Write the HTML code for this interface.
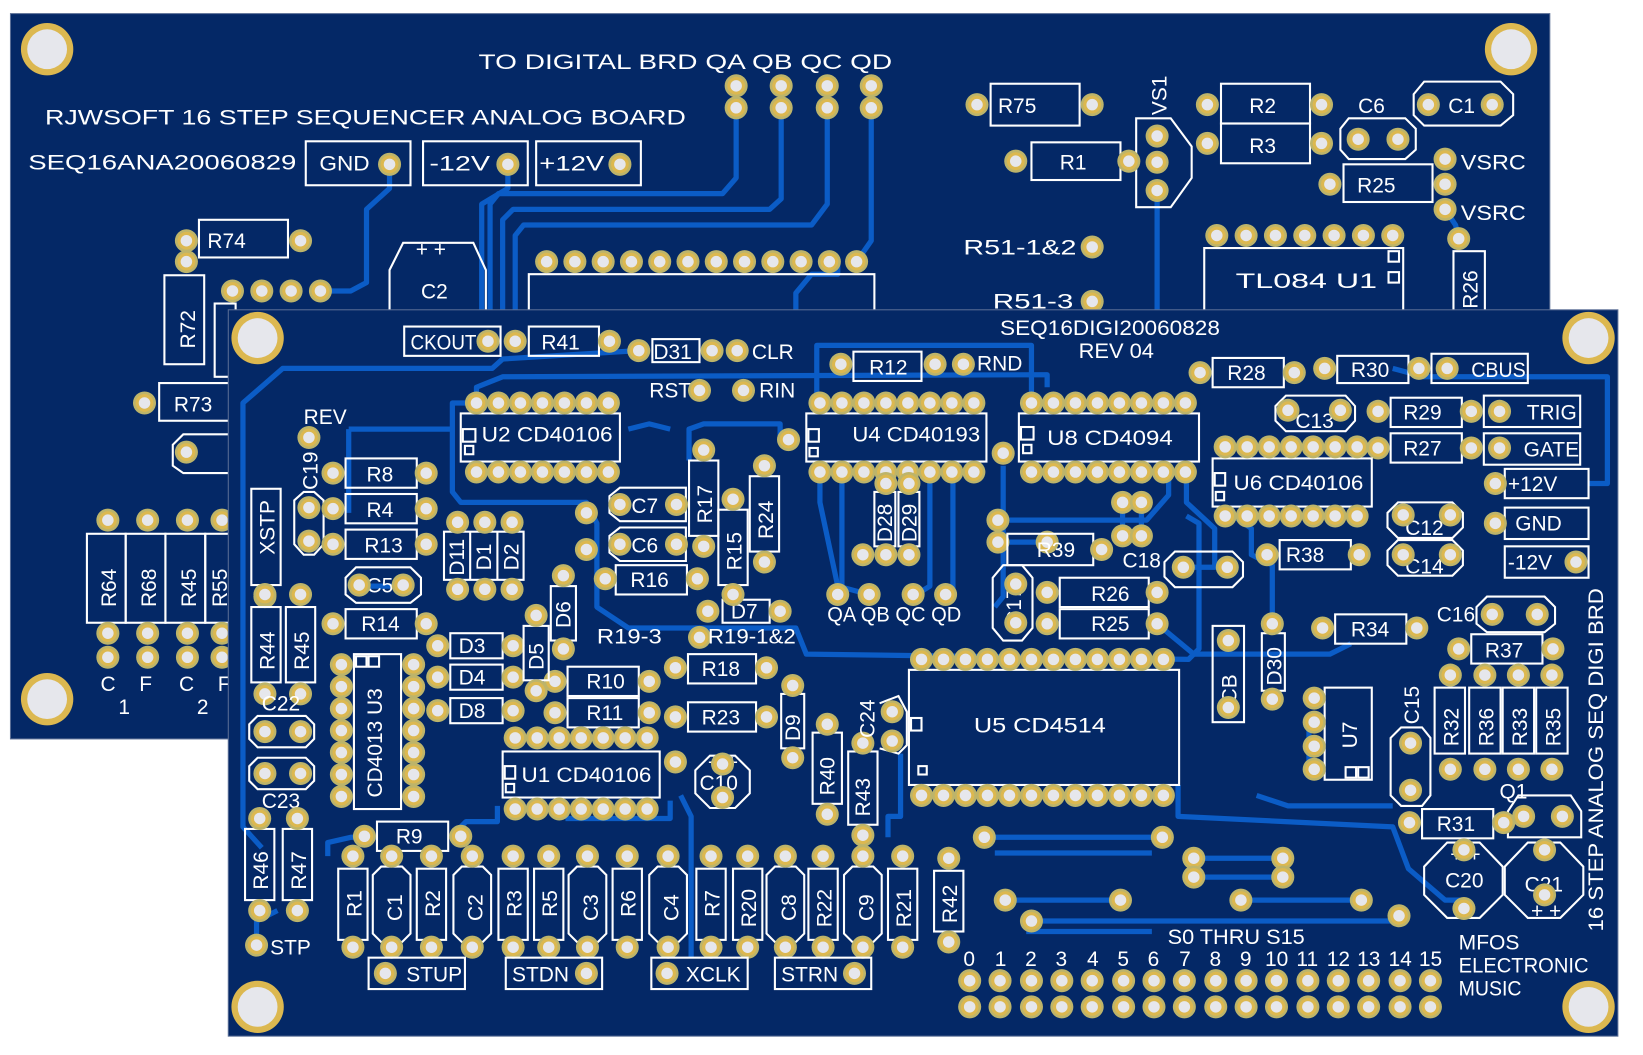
<!DOCTYPE html>
<html><head><meta charset="utf-8"><style>
html,body{margin:0;padding:0;background:#fff}
svg{display:block}
text{font-family:"Liberation Sans","DejaVu Sans",sans-serif;fill:#fff;font-size:20px}
.b{fill:none;stroke:#fff;stroke-width:2}
.tr{fill:none;stroke:#0b5cc6;stroke-width:5;stroke-linejoin:round}
</style></head><body>
<svg width="1643" height="1055" viewBox="0 0 1569 1008" preserveAspectRatio="none" xmlns="http://www.w3.org/2000/svg">
<defs>
<g id="p"><circle r="11" fill="#bdb46a"/><circle r="8.5" fill="#dcb850"/><circle r="5.5" fill="#e6e7ec"/></g>
<g id="h"><circle r="25" fill="#dcb850"/><circle r="19" fill="#e6e7ec"/></g>
</defs>
<!-- BACK BOARD -->
<rect x="10" y="13" width="1470" height="693" fill="#042866" stroke="#5a6e96" stroke-width="1"/>
<g class="tr">
<polyline points="372,157 372,180 350,200 350,270 335,278 306,278"/>
<polyline points="485,157 485,180 460,195 460,296"/>
<polyline points="703,103 703,170 690,185 476,185 468,195 468,296"/>
<polyline points="746,103 746,190 735,200 490,200 480,210 480,296"/>
<polyline points="790,103 790,195 775,215 500,215 492,225 492,296"/>
<polyline points="832,103 832,230 818,250"/>
<polyline points="1105,182 1105,296"/>
<polyline points="1380,200 1390,215 1393,228"/>
<polyline points="760,296 760,280 775,262 800,262 800,250"/>
</g>
<use href="#h" x="45" y="47"/><use href="#h" x="1443" y="47"/><use href="#h" x="45" y="668"/>
<text x="457" y="66" font-size="23" textLength="395" lengthAdjust="spacingAndGlyphs">TO DIGITAL BRD  QA  QB  QC  QD</text>
<text x="43" y="119" font-size="23" textLength="612" lengthAdjust="spacingAndGlyphs">RJWSOFT  16 STEP  SEQUENCER  ANALOG BOARD</text>
<text x="27" y="162" font-size="23" textLength="256" lengthAdjust="spacingAndGlyphs">SEQ16ANA20060829</text>
<rect class="b" x="292" y="135" width="100" height="42"/><text x="305" y="163" font-size="23" textLength="48" lengthAdjust="spacingAndGlyphs">GND</text>
<rect class="b" x="404" y="135" width="100" height="42"/><text x="410" y="163" font-size="23" textLength="58" lengthAdjust="spacingAndGlyphs">-12V</text>
<rect class="b" x="512" y="135" width="100" height="42"/><text x="515" y="163" font-size="23" textLength="62" lengthAdjust="spacingAndGlyphs">+12V</text>
<use href="#p" x="372" y="157"/><use href="#p" x="485" y="157"/><use href="#p" x="592" y="157"/>
<use href="#p" x="703" y="82"/><use href="#p" x="703" y="103"/><use href="#p" x="746" y="82"/><use href="#p" x="746" y="103"/>
<use href="#p" x="790" y="82"/><use href="#p" x="790" y="103"/><use href="#p" x="832" y="82"/><use href="#p" x="832" y="103"/>
<rect class="b" x="946" y="80" width="85" height="40"/><text x="953" y="108" font-size="23">R75</text>
<use href="#p" x="933" y="100"/><use href="#p" x="1043" y="100"/>
<polygon class="b" points="1085,113 1118,113 1138,140 1138,170 1118,198 1085,198"/>
<use href="#p" x="1105" y="130"/><use href="#p" x="1105" y="155"/><use href="#p" x="1105" y="182"/>
<text transform="translate(1114,110) rotate(-90)" font-size="23">VS1</text>
<rect class="b" x="1166" y="80" width="85" height="38"/><text x="1193" y="108" font-size="23">R2</text>
<rect class="b" x="1166" y="118" width="85" height="38"/><text x="1193" y="146" font-size="23">R3</text>
<use href="#p" x="1153" y="100"/><use href="#p" x="1262" y="100"/><use href="#p" x="1153" y="137"/><use href="#p" x="1262" y="137"/>
<text x="1297" y="108" font-size="23">C6</text>
<polygon class="b" points="1288,113 1342,113 1352,123 1352,143 1342,152 1288,152 1280,143 1280,123"/>
<use href="#p" x="1297" y="133"/><use href="#p" x="1335" y="133"/>
<polygon class="b" points="1360,78 1433,78 1445,90 1445,110 1433,120 1360,120 1350,110 1350,90"/>
<use href="#p" x="1364" y="100"/><text x="1383" y="108" font-size="23">C1</text><use href="#p" x="1425" y="100"/>
<rect class="b" x="985" y="136" width="85" height="36"/><text x="1012" y="162" font-size="23">R1</text>
<use href="#p" x="970" y="154"/><use href="#p" x="1078" y="154"/>
<rect class="b" x="1283" y="157" width="85" height="36"/><text x="1296" y="184" font-size="23">R25</text>
<use href="#p" x="1270" y="176"/><use href="#p" x="1380" y="176"/><use href="#p" x="1380" y="152"/><use href="#p" x="1380" y="200"/>
<text x="1395" y="162" font-size="23" textLength="62" lengthAdjust="spacingAndGlyphs">VSRC</text><text x="1395" y="210" font-size="23" textLength="62" lengthAdjust="spacingAndGlyphs">VSRC</text>
<text x="920" y="243" font-size="23" textLength="108" lengthAdjust="spacingAndGlyphs">R51-1&amp;2</text><use href="#p" x="1043" y="236"/>
<text x="948" y="295" font-size="23" textLength="77" lengthAdjust="spacingAndGlyphs">R51-3</text><use href="#p" x="1043" y="288"/>
<rect class="b" x="1150" y="237" width="190" height="62"/><text x="1180" y="275" font-size="23" textLength="135" lengthAdjust="spacingAndGlyphs">TL084   U1</text>
<rect class="b" x="1326" y="240" width="10" height="10"/><rect class="b" x="1326" y="260" width="10" height="10"/>
<g><use href="#p" x="1162" y="225"/><use href="#p" x="1190" y="225"/><use href="#p" x="1218" y="225"/><use href="#p" x="1246" y="225"/><use href="#p" x="1274" y="225"/><use href="#p" x="1302" y="225"/><use href="#p" x="1330" y="225"/></g>
<rect class="b" x="1388" y="240" width="30" height="58"/><text transform="translate(1411,295) rotate(-90)" font-size="23">R26</text>
<use href="#p" x="1393" y="228"/>
<rect class="b" x="190" y="210" width="85" height="36"/><text x="198" y="237" font-size="23">R74</text>
<use href="#p" x="178" y="230"/><use href="#p" x="287" y="230"/><use href="#p" x="178" y="250"/>
<rect class="b" x="157" y="263" width="38" height="85"/><text transform="translate(186,333) rotate(-90)" font-size="23">R72</text>
<rect class="b" x="205" y="290" width="20" height="70"/>
<use href="#p" x="222" y="278"/><use href="#p" x="250" y="278"/><use href="#p" x="278" y="278"/><use href="#p" x="306" y="278"/>
<polyline class="b" points="372,296 372,258 385,232 452,232 464,258 464,296"/>
<text x="397" y="245" font-size="18">+ +</text><text x="402" y="285" font-size="23">C2</text>
<polyline class="b" points="505,296 505,262 835,262 835,296"/>
<g><use href="#p" x="522" y="250"/><use href="#p" x="549" y="250"/><use href="#p" x="576" y="250"/><use href="#p" x="603" y="250"/><use href="#p" x="630" y="250"/><use href="#p" x="657" y="250"/><use href="#p" x="684" y="250"/><use href="#p" x="711" y="250"/><use href="#p" x="738" y="250"/><use href="#p" x="765" y="250"/><use href="#p" x="792" y="250"/><use href="#p" x="818" y="250"/></g>
<rect class="b" x="152" y="366" width="80" height="36"/><text x="166" y="393" font-size="23">R73</text><use href="#p" x="138" y="385"/>
<polyline class="b" points="218,415 175,415 165,425 165,445 175,452 218,452"/><use href="#p" x="178" y="432"/>
<rect class="b" x="83" y="510" width="37" height="85"/><rect class="b" x="120" y="510" width="38" height="85"/><rect class="b" x="158" y="510" width="38" height="85"/><rect class="b" x="196" y="510" width="30" height="85"/>
<text transform="translate(111,580) rotate(-90)" font-size="23">R64</text><text transform="translate(149,580) rotate(-90)" font-size="23">R68</text>
<text transform="translate(187,580) rotate(-90)" font-size="23">R45</text><text transform="translate(217,580) rotate(-90)" font-size="23">R55</text>
<use href="#p" x="103" y="497"/><use href="#p" x="141" y="497"/><use href="#p" x="179" y="497"/><use href="#p" x="212" y="497"/>
<use href="#p" x="103" y="605"/><use href="#p" x="141" y="605"/><use href="#p" x="179" y="605"/><use href="#p" x="212" y="605"/>
<use href="#p" x="103" y="628"/><use href="#p" x="141" y="628"/><use href="#p" x="179" y="628"/><use href="#p" x="212" y="628"/>
<text x="96" y="660" font-size="22">C</text><text x="133" y="660" font-size="22">F</text><text x="171" y="660" font-size="22">C</text><text x="208" y="660" font-size="22">F</text>
<text x="113" y="682" font-size="22">1</text><text x="188" y="682" font-size="22">2</text>

<!-- FRONT BOARD -->
<rect x="218" y="296" width="1327" height="694" fill="#042866" stroke="#5a6e96" stroke-width="1"/>
<g class="tr">
<polyline points="610,335 480,343 470,352 270,352 232,385 232,790 250,810"/>
<polyline points="455,385 455,370 480,360 1000,358 1000,370"/>
<polyline points="1330,352 1360,360 1535,360 1535,462 1517,462"/>
<polyline points="455,385 432,385 432,470 440,480 560,480 570,500 570,580 600,600 760,600 770,625 1135,630 1145,620 1145,500 1133,493"/>
<polyline points="333,410 333,490"/>
<polyline points="333,410 432,410"/>
<polyline points="783,451 783,480 800,560 830,568"/>
<polyline points="804,451 804,560"/>
<polyline points="888,451 888,560 875,568"/>
<polyline points="910,451 910,568"/>
<polyline points="780,395 780,330 985,330 985,385"/>
<polyline points="958,445 958,570 950,580"/>
<polyline points="964,497 1095,497 1116,473 1116,451"/>
<polyline points="1133,451 1133,480 1160,505 1160,542 1130,542"/>
<polyline points="1072,480 1072,512"/><polyline points="1090,480 1090,512"/>
<polyline points="964,518 1000,518"/>
<polyline points="1178,493 1195,505 1195,530 1215,540 1215,605"/>
<polyline points="1105,596 1140,625 1270,625 1290,615"/>
<polyline points="1125,750 1125,780 1330,790 1345,830 1380,860 1400,860"/>
<polyline points="940,800 1110,800"/><polyline points="950,815 1100,815"/>
<polyline points="1140,820 1225,820"/><polyline points="1140,838 1225,838"/>
<polyline points="960,860 1070,860"/><polyline points="1185,860 1300,860"/>
<polyline points="985,880 1340,880"/><polyline points="980,890 1100,890"/>
<polyline points="650,760 660,780 660,915"/>
<polyline points="313,818 313,805 335,800 360,800"/>
<polyline points="245,903 245,880 265,870"/>
<polyline points="430,800 445,785 475,785 475,770"/>
<polyline points="540,782 640,782 640,765"/>
<polyline points="350,560 395,560"/>
<polyline points="658,440 658,410 672,405 745,405 745,420"/>
<polyline points="600,410 620,405 640,410"/>
<polyline points="1250,690 1250,735"/>
<polyline points="848,800 848,780 860,780 860,720"/>
<polyline points="1200,760 1230,770 1330,770"/>
</g>
<use href="#h" x="246" y="323"/><use href="#h" x="1517" y="323"/><use href="#h" x="246" y="962"/><use href="#h" x="1517" y="962"/>
<text x="955" y="320" textLength="210" lengthAdjust="spacingAndGlyphs">SEQ16DIGI20060828</text><text x="1030" y="342" textLength="72" lengthAdjust="spacingAndGlyphs">REV 04</text>
<rect class="b" x="386" y="312" width="92" height="28"/><text x="392" y="334" textLength="63" lengthAdjust="spacingAndGlyphs">CKOUT</text><use href="#p" x="466" y="326"/>
<rect class="b" x="505" y="312" width="67" height="28"/><text x="517" y="334">R41</text><use href="#p" x="492" y="326"/><use href="#p" x="582" y="326"/>
<rect class="b" x="623" y="324" width="45" height="22"/><text x="624" y="343">D31</text><use href="#p" x="610" y="335"/><use href="#p" x="680" y="335"/>
<use href="#p" x="704" y="335"/><text x="718" y="343">CLR</text>
<rect class="b" x="815" y="336" width="65" height="28"/><text x="830" y="358">R12</text><use href="#p" x="803" y="348"/><use href="#p" x="893" y="348"/>
<use href="#p" x="920" y="348"/><text x="933" y="354">RND</text>
<text x="620" y="380">RST</text><use href="#p" x="668" y="373"/><text x="725" y="380">RIN</text><use href="#p" x="710" y="373"/>
<text x="290" y="405">REV</text><use href="#p" x="295" y="418"/>
<!-- U2 -->
<rect class="b" x="440" y="395" width="152" height="46"/><text x="460" y="422" textLength="125" lengthAdjust="spacingAndGlyphs">U2  CD40106</text>
<rect class="b" x="442" y="410" width="12" height="12"/><rect class="b" x="444" y="426" width="8" height="8"/>
<g><use href="#p" x="455" y="385"/><use href="#p" x="476" y="385"/><use href="#p" x="497" y="385"/><use href="#p" x="518" y="385"/><use href="#p" x="539" y="385"/><use href="#p" x="560" y="385"/><use href="#p" x="581" y="385"/>
<use href="#p" x="455" y="451"/><use href="#p" x="476" y="451"/><use href="#p" x="497" y="451"/><use href="#p" x="518" y="451"/><use href="#p" x="539" y="451"/><use href="#p" x="560" y="451"/><use href="#p" x="581" y="451"/></g>
<!-- U4 -->
<rect class="b" x="770" y="395" width="172" height="46"/><text x="814" y="422" textLength="122" lengthAdjust="spacingAndGlyphs">U4  CD40193</text>
<rect class="b" x="772" y="410" width="10" height="12"/><rect class="b" x="773" y="428" width="8" height="8"/>
<g><use href="#p" x="783" y="385"/><use href="#p" x="804" y="385"/><use href="#p" x="825" y="385"/><use href="#p" x="846" y="385"/><use href="#p" x="867" y="385"/><use href="#p" x="888" y="385"/><use href="#p" x="909" y="385"/><use href="#p" x="930" y="385"/>
<use href="#p" x="783" y="451"/><use href="#p" x="804" y="451"/><use href="#p" x="825" y="451"/><use href="#p" x="846" y="451"/><use href="#p" x="867" y="451"/><use href="#p" x="888" y="451"/><use href="#p" x="909" y="451"/><use href="#p" x="930" y="451"/></g>
<use href="#p" x="958" y="433"/>
<!-- U8 -->
<rect class="b" x="973" y="395" width="172" height="46"/><text x="1000" y="425" textLength="120" lengthAdjust="spacingAndGlyphs">U8   CD4094</text>
<rect class="b" x="975" y="408" width="12" height="12"/><rect class="b" x="977" y="425" width="8" height="8"/>
<g><use href="#p" x="985" y="385"/><use href="#p" x="1006" y="385"/><use href="#p" x="1027" y="385"/><use href="#p" x="1048" y="385"/><use href="#p" x="1069" y="385"/><use href="#p" x="1090" y="385"/><use href="#p" x="1111" y="385"/><use href="#p" x="1132" y="385"/>
<use href="#p" x="985" y="451"/><use href="#p" x="1006" y="451"/><use href="#p" x="1027" y="451"/><use href="#p" x="1048" y="451"/><use href="#p" x="1069" y="451"/><use href="#p" x="1090" y="451"/><use href="#p" x="1111" y="451"/><use href="#p" x="1132" y="451"/></g>
<!-- right top -->
<rect class="b" x="1158" y="342" width="68" height="28"/><text x="1172" y="363">R28</text><use href="#p" x="1146" y="356"/><use href="#p" x="1236" y="356"/>
<rect class="b" x="1277" y="340" width="68" height="26"/><text x="1290" y="360">R30</text><use href="#p" x="1265" y="352"/><use href="#p" x="1355" y="352"/>
<rect class="b" x="1367" y="338" width="92" height="28"/><use href="#p" x="1382" y="352"/><text x="1405" y="360" textLength="52" lengthAdjust="spacingAndGlyphs">CBUS</text>
<polygon class="b" points="1228,378 1285,378 1294,388 1294,402 1285,412 1228,412 1218,402 1218,388"/><text x="1237" y="409">C13</text>
<use href="#p" x="1230" y="392"/><use href="#p" x="1280" y="392"/>
<rect class="b" x="1328" y="380" width="68" height="28"/><text x="1340" y="401">R29</text><use href="#p" x="1316" y="393"/><use href="#p" x="1405" y="393"/>
<rect class="b" x="1417" y="378" width="92" height="30"/><use href="#p" x="1432" y="393"/><text x="1458" y="401">TRIG</text>
<rect class="b" x="1328" y="414" width="68" height="28"/><text x="1340" y="435">R27</text><use href="#p" x="1316" y="428"/><use href="#p" x="1405" y="428"/>
<rect class="b" x="1417" y="414" width="92" height="30"/><use href="#p" x="1432" y="428"/><text x="1455" y="436">GATE</text>
<!-- U6 -->
<rect class="b" x="1158" y="438" width="152" height="46"/><text x="1178" y="468" textLength="124" lengthAdjust="spacingAndGlyphs">U6  CD40106</text>
<rect class="b" x="1160" y="452" width="10" height="12"/><rect class="b" x="1161" y="470" width="8" height="8"/>
<g><use href="#p" x="1170" y="427"/><use href="#p" x="1191" y="427"/><use href="#p" x="1212" y="427"/><use href="#p" x="1233" y="427"/><use href="#p" x="1254" y="427"/><use href="#p" x="1275" y="427"/><use href="#p" x="1296" y="427"/>
<use href="#p" x="1170" y="493"/><use href="#p" x="1191" y="493"/><use href="#p" x="1212" y="493"/><use href="#p" x="1233" y="493"/><use href="#p" x="1254" y="493"/><use href="#p" x="1275" y="493"/><use href="#p" x="1296" y="493"/></g>
<rect class="b" x="1437" y="448" width="80" height="28"/><use href="#p" x="1428" y="462"/><text x="1440" y="469">+12V</text>
<rect class="b" x="1437" y="485" width="80" height="30"/><use href="#p" x="1428" y="500"/><text x="1447" y="507">GND</text>
<rect class="b" x="1437" y="522" width="80" height="30"/><text x="1440" y="544">-12V</text><use href="#p" x="1505" y="537"/>
<polygon class="b" points="1335,480 1387,480 1397,490 1397,504 1387,514 1335,514 1325,504 1325,490"/><text x="1342" y="511">C12</text><use href="#p" x="1340" y="492"/><use href="#p" x="1385" y="492"/>
<polygon class="b" points="1335,516 1387,516 1397,526 1397,540 1387,550 1335,550 1325,540 1325,526"/><text x="1342" y="548">C14</text><use href="#p" x="1340" y="530"/><use href="#p" x="1385" y="530"/>
<rect class="b" x="1222" y="516" width="68" height="28"/><text x="1228" y="537">R38</text><use href="#p" x="1210" y="530"/><use href="#p" x="1298" y="530"/>
<rect class="b" x="1275" y="587" width="68" height="28"/><text x="1290" y="608">R34</text><use href="#p" x="1263" y="600"/><use href="#p" x="1353" y="600"/>
<text x="1372" y="594">C16</text>
<polygon class="b" points="1420,570 1475,570 1485,580 1485,596 1475,604 1420,604 1410,596 1410,580"/><use href="#p" x="1425" y="587"/><use href="#p" x="1468" y="587"/>
<rect class="b" x="1405" y="606" width="68" height="28"/><text x="1418" y="628">R37</text><use href="#p" x="1393" y="620"/><use href="#p" x="1483" y="620"/>
<rect class="b" x="1205" y="605" width="22" height="55"/><text transform="translate(1224,655) rotate(-90)">D30</text><use href="#p" x="1215" y="596"/><use href="#p" x="1215" y="668"/>
<rect class="b" x="1158" y="598" width="30" height="92"/><text transform="translate(1181,672) rotate(-90)">CB</text><use href="#p" x="1173" y="612"/><use href="#p" x="1173" y="676"/>
<g>
<rect class="b" x="1370" y="657" width="29" height="63"/><rect class="b" x="1403" y="657" width="30" height="63"/><rect class="b" x="1435" y="657" width="30" height="63"/><rect class="b" x="1467" y="657" width="30" height="63"/>
<text transform="translate(1393,713) rotate(-90)">R32</text><text transform="translate(1426,713) rotate(-90)">R36</text><text transform="translate(1458,713) rotate(-90)">R33</text><text transform="translate(1490,713) rotate(-90)">R35</text>
<use href="#p" x="1385" y="645"/><use href="#p" x="1418" y="645"/><use href="#p" x="1450" y="645"/><use href="#p" x="1482" y="645"/>
<use href="#p" x="1385" y="735"/><use href="#p" x="1418" y="735"/><use href="#p" x="1450" y="735"/><use href="#p" x="1482" y="735"/>
</g>
<rect class="b" x="1265" y="657" width="45" height="88"/><text transform="translate(1296,715) rotate(-90)">U7</text>
<rect class="b" x="1285" y="733" width="10" height="10"/><rect class="b" x="1297" y="733" width="10" height="10"/>
<use href="#p" x="1255" y="667"/><use href="#p" x="1255" y="690"/><use href="#p" x="1255" y="713"/><use href="#p" x="1255" y="735"/>
<polygon class="b" points="1338,695 1358,695 1366,705 1366,760 1358,770 1338,770 1328,760 1328,705"/><text transform="translate(1355,692) rotate(-90)">C15</text>
<use href="#p" x="1347" y="710"/><use href="#p" x="1347" y="755"/>
<text x="1432" y="763">Q1</text>
<polygon class="b" points="1450,760 1500,760 1510,775 1510,800 1440,800 1440,775"/><use href="#p" x="1455" y="780"/><use href="#p" x="1492" y="780"/>
<rect class="b" x="1358" y="773" width="68" height="28"/><text x="1372" y="794">R31</text><use href="#p" x="1346" y="786"/><use href="#p" x="1436" y="786"/>
<polygon class="b" points="1382,805 1413,805 1435,828 1435,855 1413,877 1382,877 1360,855 1360,828"/><text x="1380" y="848">C20</text><text x="1385" y="823" font-size="16">+ +</text>
<use href="#p" x="1398" y="812"/><use href="#p" x="1398" y="868"/>
<polygon class="b" points="1459,805 1490,805 1512,828 1512,855 1490,877 1459,877 1437,855 1437,828"/><text x="1456" y="852">C21</text><text x="1462" y="877" font-size="16">+ +</text>
<use href="#p" x="1475" y="812"/><use href="#p" x="1475" y="855"/>
<text transform="translate(1531,890) rotate(-90)" font-size="19" textLength="328" lengthAdjust="spacingAndGlyphs">16 STEP  ANALOG  SEQ  DIGI  BRD</text>
<text x="1393" y="907" font-size="19" textLength="58" lengthAdjust="spacingAndGlyphs">MFOS</text><text x="1393" y="929" font-size="19" textLength="124" lengthAdjust="spacingAndGlyphs">ELECTRONIC</text><text x="1393" y="951" font-size="19" textLength="60" lengthAdjust="spacingAndGlyphs">MUSIC</text>
<use href="#p" x="1336" y="875"/>
<!-- S0..S15 -->
<text x="1115" y="902" textLength="131" lengthAdjust="spacingAndGlyphs">S0  THRU  S15</text>
<g font-size="19"><text x="920" y="923">0</text><text x="950" y="923">1</text><text x="979" y="923">2</text><text x="1008" y="923">3</text><text x="1038" y="923">4</text><text x="1067" y="923">5</text><text x="1096" y="923">6</text><text x="1126" y="923">7</text><text x="1155" y="923">8</text><text x="1184" y="923">9</text><text x="1208" y="923">10</text><text x="1238" y="923">11</text><text x="1267" y="923">12</text><text x="1296" y="923">13</text><text x="1326" y="923">14</text><text x="1355" y="923">15</text></g>
<g><use href="#p" x="926" y="937"/><use href="#p" x="955" y="937"/><use href="#p" x="985" y="937"/><use href="#p" x="1014" y="937"/><use href="#p" x="1043" y="937"/><use href="#p" x="1073" y="937"/><use href="#p" x="1102" y="937"/><use href="#p" x="1131" y="937"/><use href="#p" x="1161" y="937"/><use href="#p" x="1190" y="937"/><use href="#p" x="1219" y="937"/><use href="#p" x="1249" y="937"/><use href="#p" x="1278" y="937"/><use href="#p" x="1307" y="937"/><use href="#p" x="1337" y="937"/><use href="#p" x="1366" y="937"/>
<use href="#p" x="926" y="962"/><use href="#p" x="955" y="962"/><use href="#p" x="985" y="962"/><use href="#p" x="1014" y="962"/><use href="#p" x="1043" y="962"/><use href="#p" x="1073" y="962"/><use href="#p" x="1102" y="962"/><use href="#p" x="1131" y="962"/><use href="#p" x="1161" y="962"/><use href="#p" x="1190" y="962"/><use href="#p" x="1219" y="962"/><use href="#p" x="1249" y="962"/><use href="#p" x="1278" y="962"/><use href="#p" x="1307" y="962"/><use href="#p" x="1337" y="962"/><use href="#p" x="1366" y="962"/></g>
<use href="#p" x="940" y="800"/><use href="#p" x="1110" y="800"/><use href="#p" x="1140" y="820"/><use href="#p" x="1225" y="820"/><use href="#p" x="1140" y="838"/><use href="#p" x="1225" y="838"/>
<use href="#p" x="960" y="860"/><use href="#p" x="1070" y="860"/><use href="#p" x="1185" y="860"/><use href="#p" x="1300" y="860"/><use href="#p" x="985" y="880"/>
<!-- U5 -->
<rect class="b" x="868" y="640" width="258" height="110"/><text x="930" y="700" textLength="126" lengthAdjust="spacingAndGlyphs">U5    CD4514</text>
<rect class="b" x="870" y="686" width="10" height="12"/><rect class="b" x="877" y="732" width="8" height="8"/>
<g><use href="#p" x="880" y="630"/><use href="#p" x="901" y="630"/><use href="#p" x="922" y="630"/><use href="#p" x="943" y="630"/><use href="#p" x="964" y="630"/><use href="#p" x="985" y="630"/><use href="#p" x="1006" y="630"/><use href="#p" x="1027" y="630"/><use href="#p" x="1048" y="630"/><use href="#p" x="1069" y="630"/><use href="#p" x="1090" y="630"/><use href="#p" x="1111" y="630"/>
<use href="#p" x="880" y="760"/><use href="#p" x="901" y="760"/><use href="#p" x="922" y="760"/><use href="#p" x="943" y="760"/><use href="#p" x="964" y="760"/><use href="#p" x="985" y="760"/><use href="#p" x="1006" y="760"/><use href="#p" x="1027" y="760"/><use href="#p" x="1048" y="760"/><use href="#p" x="1069" y="760"/><use href="#p" x="1090" y="760"/><use href="#p" x="1111" y="760"/></g>
<!-- middle -->
<use href="#p" x="953" y="497"/><use href="#p" x="953" y="518"/><use href="#p" x="1072" y="480"/><use href="#p" x="1090" y="480"/><use href="#p" x="1072" y="512"/><use href="#p" x="1090" y="512"/><use href="#p" x="1000" y="518"/>
<rect class="b" x="962" y="510" width="82" height="30"/><text x="990" y="532">R39</text><use href="#p" x="1052" y="525"/>
<text x="1072" y="542">C18</text>
<polygon class="b" points="1122,527 1177,527 1187,537 1187,551 1177,561 1122,561 1112,551 1112,537"/><use href="#p" x="1130" y="542"/><use href="#p" x="1172" y="542"/>
<rect class="b" x="1012" y="552" width="85" height="28"/><text x="1042" y="574">R26</text><use href="#p" x="1000" y="566"/><use href="#p" x="1105" y="566"/>
<rect class="b" x="1012" y="582" width="85" height="28"/><text x="1042" y="603">R25</text><use href="#p" x="1000" y="596"/><use href="#p" x="1105" y="596"/>
<polygon class="b" points="958,540 976,540 986,552 986,600 976,612 958,612 948,600 948,552"/><text transform="translate(975,598) rotate(-90)">C17</text>
<use href="#p" x="970" y="558"/><use href="#p" x="970" y="595"/>
<rect class="b" x="835" y="470" width="20" height="52"/><rect class="b" x="858" y="470" width="20" height="52"/>
<text transform="translate(852,518) rotate(-90)" font-size="17">D28</text><text transform="translate(875,518) rotate(-90)" font-size="17">D29</text>
<use href="#p" x="846" y="462"/><use href="#p" x="868" y="462"/><use href="#p" x="846" y="530"/><use href="#p" x="868" y="530"/><use href="#p" x="824" y="530"/>
<use href="#p" x="800" y="568"/><use href="#p" x="830" y="568"/><use href="#p" x="872" y="568"/><use href="#p" x="903" y="568"/>
<text x="790" y="594" font-size="18" textLength="128" lengthAdjust="spacingAndGlyphs">QA QB  QC QD</text>
<rect class="b" x="690" y="573" width="45" height="22"/><text x="698" y="591">D7</text><use href="#p" x="676" y="584"/><use href="#p" x="745" y="584"/>
<text x="570" y="615" font-size="18" textLength="62" lengthAdjust="spacingAndGlyphs">R19-3</text><use href="#p" x="668" y="609"/><text x="676" y="615" font-size="18" textLength="84" lengthAdjust="spacingAndGlyphs">R19-1&amp;2</text>
<rect class="b" x="657" y="625" width="65" height="28"/><text x="670" y="646">R18</text><use href="#p" x="645" y="638"/><use href="#p" x="732" y="638"/>
<rect class="b" x="542" y="637" width="68" height="28"/><text x="560" y="658">R10</text><use href="#p" x="530" y="651"/><use href="#p" x="620" y="651"/>
<rect class="b" x="542" y="667" width="68" height="28"/><text x="560" y="688">R11</text><use href="#p" x="530" y="681"/><use href="#p" x="620" y="681"/>
<rect class="b" x="657" y="671" width="65" height="28"/><text x="670" y="692">R23</text><use href="#p" x="645" y="685"/><use href="#p" x="732" y="685"/>
<rect class="b" x="746" y="663" width="22" height="52"/><text transform="translate(764,708) rotate(-90)">D9</text><use href="#p" x="757" y="655"/><use href="#p" x="757" y="724"/>
<rect class="b" x="776" y="700" width="28" height="68"/><text transform="translate(797,760) rotate(-90)">R40</text><use href="#p" x="790" y="692"/><use href="#p" x="790" y="778"/>
<rect class="b" x="810" y="718" width="28" height="70"/><text transform="translate(831,780) rotate(-90)">R43</text><use href="#p" x="824" y="710"/><use href="#p" x="824" y="798"/>
<polyline class="b" points="840,672 858,665 866,680 866,712 858,720 840,715"/><text transform="translate(835,705) rotate(-90)">C24</text>
<use href="#p" x="852" y="680"/><use href="#p" x="852" y="708"/>
<!-- U1 -->
<rect class="b" x="480" y="718" width="150" height="44"/><text x="498" y="747" textLength="124" lengthAdjust="spacingAndGlyphs">U1  CD40106</text>
<rect class="b" x="482" y="732" width="10" height="12"/><rect class="b" x="483" y="749" width="8" height="8"/>
<g><use href="#p" x="492" y="705"/><use href="#p" x="513" y="705"/><use href="#p" x="534" y="705"/><use href="#p" x="555" y="705"/><use href="#p" x="576" y="705"/><use href="#p" x="597" y="705"/><use href="#p" x="618" y="705"/>
<use href="#p" x="492" y="773"/><use href="#p" x="513" y="773"/><use href="#p" x="534" y="773"/><use href="#p" x="555" y="773"/><use href="#p" x="576" y="773"/><use href="#p" x="597" y="773"/><use href="#p" x="618" y="773"/></g>
<use href="#p" x="645" y="728"/>
<polygon class="b" points="678,722 702,722 716,736 716,758 702,772 678,772 664,758 664,736"/><text x="668" y="755" font-size="18">C10</text><text x="676" y="735" font-size="14">+ +</text>
<use href="#p" x="690" y="730"/><use href="#p" x="690" y="762"/>
<!-- left -->
<rect class="b" x="240" y="467" width="28" height="92"/><text transform="translate(262,530) rotate(-90)">XSTP</text><use href="#p" x="253" y="570"/>
<polygon class="b" points="290,470 300,470 309,478 309,520 300,530 290,530 281,520 281,478"/><text transform="translate(303,468) rotate(-90)">C19</text>
<use href="#p" x="295" y="485"/><use href="#p" x="295" y="517"/>
<rect class="b" x="330" y="438" width="68" height="28"/><text x="350" y="460">R8</text><use href="#p" x="318" y="452"/><use href="#p" x="407" y="452"/>
<rect class="b" x="330" y="472" width="68" height="28"/><text x="350" y="494">R4</text><use href="#p" x="318" y="486"/><use href="#p" x="407" y="486"/>
<rect class="b" x="330" y="506" width="68" height="28"/><text x="348" y="528">R13</text><use href="#p" x="318" y="520"/><use href="#p" x="407" y="520"/>
<polygon class="b" points="340,542 392,542 402,552 402,568 392,576 340,576 330,568 330,552"/><text x="350" y="566">C5</text><use href="#p" x="343" y="559"/><use href="#p" x="385" y="559"/>
<rect class="b" x="330" y="582" width="68" height="28"/><text x="345" y="603">R14</text><use href="#p" x="318" y="596"/><use href="#p" x="407" y="596"/>
<rect class="b" x="424" y="508" width="76" height="46"/><line class="b" x1="449" y1="508" x2="449" y2="554"/><line class="b" x1="475" y1="508" x2="475" y2="554"/>
<text transform="translate(443,550) rotate(-90)" font-size="18">D11</text><text transform="translate(469,545) rotate(-90)" font-size="18">D1</text><text transform="translate(495,545) rotate(-90)" font-size="18">D2</text>
<use href="#p" x="437" y="499"/><use href="#p" x="463" y="499"/><use href="#p" x="489" y="499"/><use href="#p" x="437" y="563"/><use href="#p" x="463" y="563"/><use href="#p" x="489" y="563"/>
<rect class="b" x="430" y="605" width="50" height="24"/><text x="438" y="624">D3</text><use href="#p" x="418" y="617"/><use href="#p" x="490" y="617"/>
<rect class="b" x="430" y="635" width="50" height="24"/><text x="438" y="654">D4</text><use href="#p" x="418" y="647"/><use href="#p" x="490" y="647"/>
<rect class="b" x="430" y="667" width="50" height="24"/><text x="438" y="686">D8</text><use href="#p" x="418" y="679"/><use href="#p" x="490" y="679"/>
<rect class="b" x="500" y="598" width="24" height="52"/><text transform="translate(519,640) rotate(-90)">D5</text><use href="#p" x="512" y="588"/><use href="#p" x="512" y="660"/>
<rect class="b" x="526" y="560" width="24" height="52"/><text transform="translate(545,600) rotate(-90)">D6</text><use href="#p" x="538" y="550"/><use href="#p" x="538" y="620"/>
<use href="#p" x="560" y="490"/><use href="#p" x="560" y="525"/>
<polygon class="b" points="592,466 655,466 655,498 592,498 582,490 582,474"/><use href="#p" x="592" y="482"/><text x="603" y="490">C7</text><use href="#p" x="646" y="482"/>
<polygon class="b" points="592,504 655,504 655,536 592,536 582,528 582,512"/><use href="#p" x="592" y="520"/><text x="603" y="528">C6</text><use href="#p" x="646" y="520"/>
<rect class="b" x="588" y="540" width="68" height="28"/><text x="602" y="561">R16</text><use href="#p" x="578" y="553"/><use href="#p" x="666" y="553"/>
<rect class="b" x="658" y="440" width="28" height="72"/><text transform="translate(680,500) rotate(-90)">R17</text><use href="#p" x="672" y="430"/><use href="#p" x="672" y="522"/>
<rect class="b" x="686" y="487" width="28" height="72"/><text transform="translate(708,545) rotate(-90)">R15</text><use href="#p" x="700" y="477"/><use href="#p" x="700" y="568"/>
<rect class="b" x="716" y="455" width="28" height="72"/><text transform="translate(738,515) rotate(-90)">R24</text><use href="#p" x="730" y="445"/><use href="#p" x="730" y="537"/>
<use href="#p" x="753" y="420"/>
<rect class="b" x="240" y="580" width="28" height="72"/><text transform="translate(262,640) rotate(-90)">R44</text>
<rect class="b" x="273" y="580" width="28" height="72"/><text transform="translate(295,640) rotate(-90)">R45</text>
<use href="#p" x="253" y="568"/><use href="#p" x="287" y="568"/><use href="#p" x="253" y="663"/><use href="#p" x="287" y="663"/>
<text x="250" y="679" font-size="19">C22</text>
<polygon class="b" points="246,684 292,684 300,692 300,706 292,714 246,714 238,706 238,692"/><use href="#p" x="253" y="699"/><use href="#p" x="287" y="699"/>
<polygon class="b" points="246,724 292,724 300,732 300,746 292,754 246,754 238,746 238,732"/><use href="#p" x="253" y="739"/><use href="#p" x="287" y="739"/>
<text x="250" y="772" font-size="19">C23</text>
<rect class="b" x="338" y="625" width="45" height="148"/><text transform="translate(365,762) rotate(-90)">CD4013   U3</text>
<rect class="b" x="340" y="627" width="10" height="10"/><rect class="b" x="352" y="627" width="10" height="10"/>
<g><use href="#p" x="326" y="635"/><use href="#p" x="326" y="656"/><use href="#p" x="326" y="677"/><use href="#p" x="326" y="698"/><use href="#p" x="326" y="719"/><use href="#p" x="326" y="740"/><use href="#p" x="326" y="761"/>
<use href="#p" x="395" y="635"/><use href="#p" x="395" y="656"/><use href="#p" x="395" y="677"/><use href="#p" x="395" y="698"/><use href="#p" x="395" y="719"/><use href="#p" x="395" y="740"/><use href="#p" x="395" y="761"/></g>
<rect class="b" x="234" y="792" width="28" height="68"/><text transform="translate(256,850) rotate(-90)">R46</text><use href="#p" x="248" y="782"/><use href="#p" x="248" y="870"/>
<rect class="b" x="270" y="792" width="28" height="68"/><text transform="translate(292,850) rotate(-90)">R47</text><use href="#p" x="284" y="782"/><use href="#p" x="284" y="870"/>
<rect class="b" x="360" y="785" width="68" height="28"/><text x="378" y="806">R9</text><use href="#p" x="348" y="799"/><use href="#p" x="440" y="799"/>
<use href="#p" x="245" y="903"/><text x="258" y="912" font-size="19">STP</text>
<!-- bottom row -->
<g>
<rect class="b" x="323" y="830" width="28" height="68"/><text transform="translate(345,876) rotate(-90)">R1</text>
<polygon class="b" points="364,828 384,828 392,836 392,892 384,900 364,900 356,892 356,836"/><text transform="translate(384,880) rotate(-90)">C1</text>
<rect class="b" x="398" y="830" width="28" height="68"/><text transform="translate(420,876) rotate(-90)">R2</text>
<polygon class="b" points="441,828 461,828 469,836 469,892 461,900 441,900 433,892 433,836"/><text transform="translate(461,880) rotate(-90)">C2</text>
<rect class="b" x="476" y="830" width="28" height="68"/><text transform="translate(498,876) rotate(-90)">R3</text>
<rect class="b" x="510" y="830" width="28" height="68"/><text transform="translate(532,876) rotate(-90)">R5</text>
<polygon class="b" points="551,828 571,828 579,836 579,892 571,900 551,900 543,892 543,836"/><text transform="translate(571,880) rotate(-90)">C3</text>
<rect class="b" x="585" y="830" width="28" height="68"/><text transform="translate(607,876) rotate(-90)">R6</text>
<polygon class="b" points="628,828 648,828 656,836 656,892 648,900 628,900 620,892 620,836"/><text transform="translate(648,880) rotate(-90)">C4</text>
<rect class="b" x="665" y="830" width="28" height="68"/><text transform="translate(687,876) rotate(-90)">R7</text>
<rect class="b" x="700" y="830" width="28" height="68"/><text transform="translate(722,886) rotate(-90)">R20</text>
<polygon class="b" points="740,828 760,828 768,836 768,892 760,900 740,900 732,892 732,836"/><text transform="translate(760,880) rotate(-90)">C8</text>
<rect class="b" x="772" y="830" width="28" height="68"/><text transform="translate(794,886) rotate(-90)">R22</text>
<polygon class="b" points="814,828 834,828 842,836 842,892 834,900 814,900 806,892 806,836"/><text transform="translate(834,880) rotate(-90)">C9</text>
<rect class="b" x="848" y="830" width="28" height="68"/><text transform="translate(870,886) rotate(-90)">R21</text>
<rect class="b" x="892" y="832" width="28" height="58"/><text transform="translate(914,882) rotate(-90)">R42</text>
</g>
<g><use href="#p" x="337" y="818"/><use href="#p" x="374" y="818"/><use href="#p" x="412" y="818"/><use href="#p" x="451" y="818"/><use href="#p" x="490" y="818"/><use href="#p" x="524" y="818"/><use href="#p" x="561" y="818"/><use href="#p" x="599" y="818"/><use href="#p" x="638" y="818"/><use href="#p" x="679" y="818"/><use href="#p" x="714" y="818"/><use href="#p" x="750" y="818"/><use href="#p" x="786" y="818"/><use href="#p" x="824" y="818"/><use href="#p" x="862" y="818"/><use href="#p" x="906" y="820"/>
<use href="#p" x="337" y="905"/><use href="#p" x="374" y="905"/><use href="#p" x="412" y="905"/><use href="#p" x="451" y="905"/><use href="#p" x="490" y="905"/><use href="#p" x="524" y="905"/><use href="#p" x="561" y="905"/><use href="#p" x="599" y="905"/><use href="#p" x="638" y="905"/><use href="#p" x="679" y="905"/><use href="#p" x="714" y="905"/><use href="#p" x="750" y="905"/><use href="#p" x="786" y="905"/><use href="#p" x="824" y="905"/><use href="#p" x="862" y="905"/><use href="#p" x="906" y="900"/></g>
<rect class="b" x="352" y="915" width="92" height="30"/><use href="#p" x="368" y="930"/><text x="388" y="938">STUP</text>
<rect class="b" x="483" y="915" width="92" height="30"/><text x="489" y="938">STDN</text><use href="#p" x="560" y="930"/>
<rect class="b" x="622" y="915" width="92" height="30"/><use href="#p" x="637" y="930"/><text x="655" y="938">XCLK</text>
<rect class="b" x="740" y="915" width="92" height="30"/><text x="746" y="938">STRN</text><use href="#p" x="816" y="930"/>
</svg>
</body></html>
